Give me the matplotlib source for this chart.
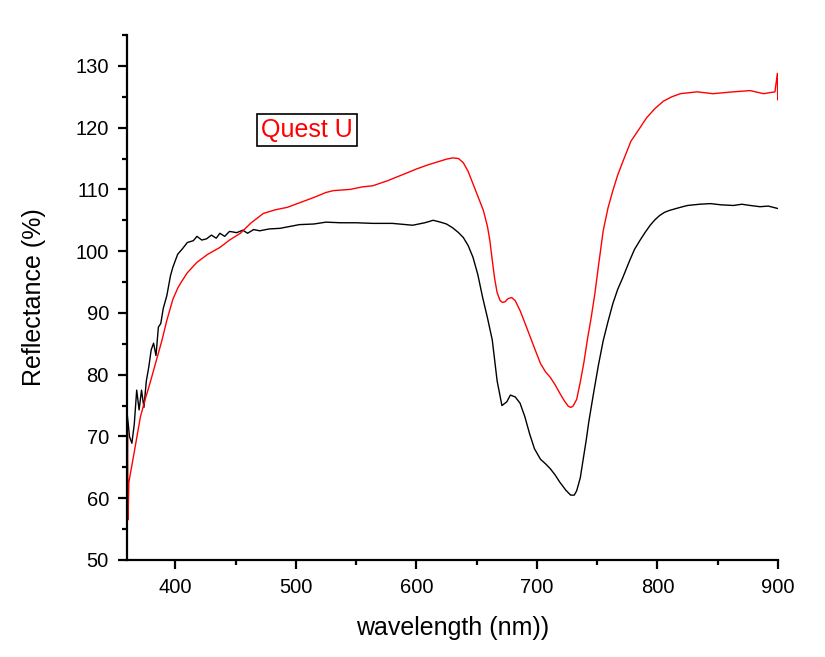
import numpy as np
import matplotlib
matplotlib.use("Agg")
import matplotlib.pyplot as plt
from matplotlib.ticker import MultipleLocator

# black spectrum
wl_black = [360, 361, 362, 364, 366, 368, 370, 372, 374, 376, 378, 380, 382, 384,
            386, 388, 390, 393, 396, 398, 402, 406, 410, 415, 418, 422, 426, 430,
            434, 437, 441, 445, 451, 456, 460, 465, 470, 478, 487, 495, 503, 515,
            525, 537, 550, 564, 580, 597, 607, 614, 620, 625, 630, 635, 639, 643,
            647, 651, 655, 659, 663, 667, 671, 675, 678, 682, 686, 690, 694, 698,
            703, 707, 711, 715, 719, 724, 728, 731, 733, 736, 738, 741, 743, 747,
            751, 755, 759, 763, 767, 771, 777, 781, 786, 790, 794, 798, 802, 806,
            810, 819, 825, 835, 844, 853, 863, 870, 877, 885, 892, 900]
refl_black = [73.8, 72.0, 70.0, 68.9, 72.0, 77.5, 74.3, 77.5, 74.7, 79.0, 81.2, 84.0, 85.1, 83.1,
              87.7, 88.3, 90.7, 92.8, 96.0, 97.4, 99.5, 100.4, 101.4, 101.7, 102.4, 101.8, 102.0, 102.6,
              102.1, 102.9, 102.4, 103.2, 103.0, 103.4, 102.9, 103.5, 103.3, 103.6, 103.7, 104.0, 104.3, 104.4,
              104.7, 104.6, 104.6, 104.5, 104.5, 104.2, 104.6, 105.0, 104.7, 104.4, 103.8, 103.0, 102.2, 100.9,
              99.0, 96.2, 92.5, 89.2, 85.6, 79.0, 75.0, 75.6, 76.7, 76.4, 75.4, 73.2, 70.4, 68.0,
              66.3, 65.6, 64.8, 63.8, 62.6, 61.3, 60.5, 60.5, 61.2, 63.3, 65.8, 69.5, 72.3, 77.0,
              81.5, 85.5, 88.6, 91.5, 93.8, 95.6, 98.5, 100.3, 101.9, 103.1, 104.2, 105.1, 105.8, 106.3,
              106.6, 107.1, 107.4, 107.6, 107.7, 107.5, 107.4, 107.6, 107.4, 107.2, 107.3, 106.9]

# red spectrum "Quest U"
wl_red = [360.0, 360.4, 360.8, 361.5, 366, 371, 375, 379, 385, 389, 393, 398, 402,
          405, 410, 418, 427, 437, 445, 454, 463, 473, 483, 493, 504, 515, 525, 531,
          545, 555, 564, 576, 590, 600, 610, 620, 625, 630, 635, 639, 643, 647, 651,
          655.6, 659, 661, 663, 665, 667, 669.5, 671.5, 673.6, 676, 679, 682, 686,
          690, 694.5, 699, 703, 707, 711, 715, 719, 723, 726, 728, 730, 733, 736,
          739, 742, 745, 748, 751, 755, 759, 763, 767, 771.5, 778, 785.6, 791, 798,
          805, 812, 819, 833, 846, 863, 877, 888, 897.5, 899.5, 899.8, 900]
refl_red = [62.0, 70.5, 56.5, 62.6, 67.5, 73.1, 76.0, 78.6, 82.8, 85.6, 88.8, 92.2, 94.0,
            95.0, 96.5, 98.2, 99.5, 100.6, 101.8, 102.9, 104.6, 106.1, 106.7, 107.1, 107.9, 108.7, 109.5, 109.8,
            110.0, 110.4, 110.6, 111.4, 112.5, 113.3, 114.0, 114.6, 114.9, 115.1, 115.0, 114.3, 112.9, 110.9, 108.9,
            106.6, 104.0, 101.7, 98.5, 95.5, 93.3, 92.0, 91.7, 91.8, 92.3, 92.5, 92.0, 90.4,
            88.4, 86.1, 83.8, 81.8, 80.5, 79.6, 78.4, 77.0, 75.7, 74.9, 74.7, 74.9, 76.0, 78.8,
            82.0, 85.8, 89.2, 93.0, 97.5, 103.3, 107.0, 109.8, 112.3, 114.6, 117.8, 120.0, 121.6, 123.1,
            124.3, 125.0, 125.5, 125.8, 125.5, 125.8, 126.0, 125.5, 125.8, 128.8, 124.5, 126.0]

plt.rcParams['font.family'] = ['Liberation Sans', 'DejaVu Sans']

fig = plt.figure(figsize=(8.25, 6.57), dpi=100)
ax = fig.add_axes([0.154, 0.1477, 0.789, 0.799])

ax.plot(wl_black, refl_black, color='black', lw=1.0)
ax.plot(wl_red, refl_red, color='#ff0000', lw=1.0)

ax.set_xlim(360, 900)
ax.set_ylim(50, 135)
ax.xaxis.set_major_locator(MultipleLocator(100))
ax.xaxis.set_minor_locator(MultipleLocator(50))
ax.yaxis.set_major_locator(MultipleLocator(10))
ax.yaxis.set_minor_locator(MultipleLocator(5))

for s in ['top', 'right']:
    ax.spines[s].set_visible(False)
for s in ['left', 'bottom']:
    ax.spines[s].set_linewidth(1.6)

ax.tick_params(which='major', direction='out', length=6.5, width=1.6, labelsize=14.5, pad=6.5)
ax.tick_params(which='minor', direction='out', length=3.6, width=1.6)

ax.set_xlabel('wavelength (nm))', fontsize=18, labelpad=14)
ax.set_ylabel('Reflectance (%)', fontsize=18, labelpad=21)

ax.text(0.2765, 0.819, 'Quest U', transform=ax.transAxes, color='#ff0000',
        fontsize=18, ha='center', va='center',
        bbox=dict(boxstyle='square,pad=0.15', facecolor='white', edgecolor='black', lw=1.2))

fig.savefig('out.png', dpi=100)
